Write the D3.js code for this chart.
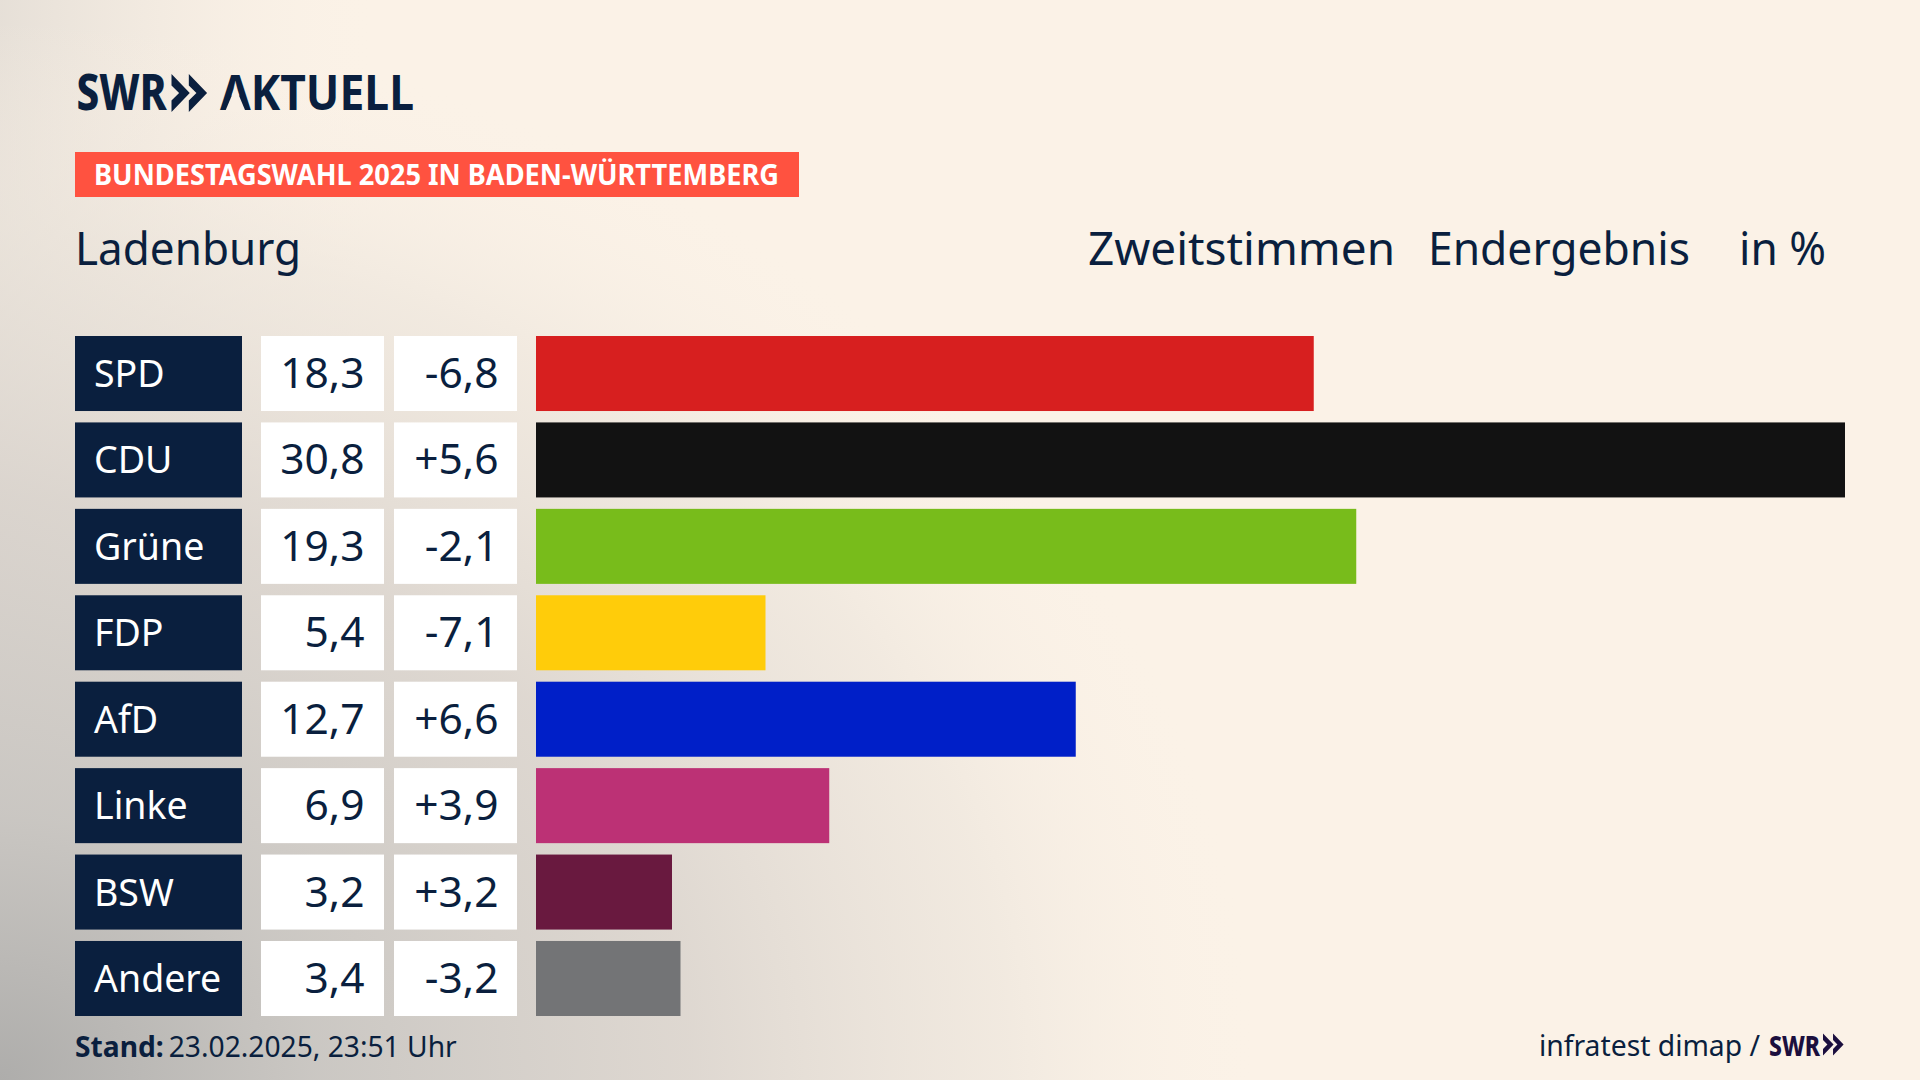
<!DOCTYPE html>
<html lang="de">
<head>
<meta charset="utf-8">
<script src="https://d3js.org/d3.v7.min.js"></script>
<style>
html,body{margin:0;padding:0;width:1920px;height:1080px;overflow:hidden;background:#fbf2e7}
svg{display:block}
text{font-family:"Noto Sans",sans-serif}
</style>
</head>
<body>
<script>
const parties = ["SPD","CDU","Grüne","FDP","AfD","Linke","BSW","Andere"];
const results = [18.3,30.8,19.3,5.4,12.7,6.9,3.2,3.4];
const changes = [-6.8,5.6,-2.1,-7.1,6.6,3.9,3.2,-3.2];
const colours = ["#d71f1f","#121212","#78bc1b","#ffcc0a","#001fc8","#bc3175","#69193f","#737476"];

const navy="#0a1f3e";
const svg=d3.select("body").append("svg").attr("width",1920).attr("height",1080);
const defs=svg.append("defs");

const g1=defs.append("radialGradient").attr("id","bgA").attr("gradientUnits","userSpaceOnUse")
  .attr("cx",0).attr("cy",0).attr("r",1)
  .attr("gradientTransform","translate(0 1080) scale(1260 1060)");
[[0,"#aeadab",1],[.25,"#c8c5c1",.95],[.55,"#d8d2cc",.82],[.8,"#ebe4db",.6],[1,"#fbf2e7",0]].forEach(s=>
  g1.append("stop").attr("offset",s[0]).attr("stop-color",s[1]).attr("stop-opacity",s[2]));
const g2=defs.append("linearGradient").attr("id","bgB").attr("gradientUnits","userSpaceOnUse")
  .attr("x1",0).attr("y1",0).attr("x2",380).attr("y2",0);
[[0,"#c9c6c2",.42],[.5,"#d5d0ca",.16],[1,"#fbf2e7",0]].forEach(s=>
  g2.append("stop").attr("offset",s[0]).attr("stop-color",s[1]).attr("stop-opacity",s[2]));
svg.append("rect").attr("width",1920).attr("height",1080).attr("fill","#fbf2e7");
svg.append("rect").attr("width",1920).attr("height",1080).attr("fill","url(#bgB)");
svg.append("rect").attr("width",1920).attr("height",1080).attr("fill","url(#bgA)");

const xScale=d3.scaleLinear().domain([0,30.8]).range([536,1845]);
const yScale=d3.scaleBand().domain(parties).range([336,1016]).paddingInner(0.132).paddingOuter(0);
const fmt=v=>d3.format(".1f")(Math.abs(v)).replace(".",",");
const fmtChange=v=>(v<0?"-":"+")+fmt(v);

const fit=(sel,len)=>sel.attr("textLength",len).attr("lengthAdjust","spacingAndGlyphs");

// header logo
fit(svg.append("text").attr("x",76.5).attr("y",110).attr("font-size",49).attr("font-weight",800).attr("fill",navy).text("SWR"),90);
const aktuell=fit(svg.append("text").attr("x",220).attr("y",110).attr("font-size",49).attr("font-weight",700).attr("fill",navy).text("AKTUELL"),194);
// the wordmark's A has no crossbar
const a=aktuell.node().getExtentOfChar(0);
svg.append("path").attr("fill","#f8efe5")
  .attr("d",`M${a.x+a.width*.5} ${110-23}L${a.x+a.width*.82} ${110.5}L${a.x+a.width*.18} ${110.5}Z`);
const chevrons=(x,y,h,fill)=>{
  const w=h*.48,e=h*.3,n=h*.2;
  for(const dx of [0,w*.95]){
    const l=x+dx;
    svg.append("path").attr("fill",fill)
      .attr("d",`M${l} ${y}L${l+w} ${y+h/2}L${l} ${y+h}L${l} ${y+h-e}L${l+n} ${y+h/2}L${l} ${y+e}Z`);
  }
};
chevrons(171.5,74,38,navy);

// banner
svg.append("rect").attr("x",75).attr("y",152).attr("width",724).attr("height",45).attr("fill","#ff5240");
fit(svg.append("text").attr("x",94).attr("y",185).attr("font-size",28).attr("font-weight",700).attr("fill","#fff").text("BUNDESTAGSWAHL 2025 IN BADEN-WÜRTTEMBERG"),685);

// headers
[["Ladenburg",75,226],["Zweitstimmen",1088,307],["Endergebnis",1428,262],["in %",1739,87]].forEach(d=>
  fit(svg.append("text").attr("x",d[1]).attr("y",264.5).attr("font-size",45).attr("fill",navy).text(d[0]),d[2]));

// rows
const rows=svg.selectAll("g.row").data(parties).join("g").attr("class","row");
const bh=yScale.bandwidth();
rows.append("rect").attr("x",75).attr("y",d=>yScale(d)).attr("width",167).attr("height",bh).attr("fill",navy);
rows.append("text").attr("x",94).attr("y",d=>yScale(d)+51).attr("font-size",37.5).attr("fill","#fff").text(d=>d);
rows.append("rect").attr("x",261).attr("y",d=>yScale(d)).attr("width",123).attr("height",bh).attr("fill","#fff");
rows.append("text").attr("x",364.5).attr("y",d=>yScale(d)+52).attr("font-size",42.5).attr("text-anchor","end").attr("fill",navy).text((d,i)=>fmt(results[i]));
rows.append("rect").attr("x",394).attr("y",d=>yScale(d)).attr("width",123).attr("height",bh).attr("fill","#fff");
rows.append("text").attr("x",498.5).attr("y",d=>yScale(d)+52).attr("font-size",42.5).attr("text-anchor","end").attr("fill",navy).text((d,i)=>fmtChange(changes[i]));
rows.append("rect").attr("x",xScale(0)).attr("y",d=>yScale(d)).attr("width",(d,i)=>xScale(results[i])-xScale(0)).attr("height",bh).attr("fill",(d,i)=>colours[i]);

// footer
const st=svg.append("text").attr("x",75).attr("y",1056.5).attr("font-size",28.2).attr("fill",navy);
st.append("tspan").attr("font-weight",700).text("Stand:");
st.append("tspan").attr("dx",5).text("23.02.2025, 23:51 Uhr");
fit(svg.append("text").attr("x",1539).attr("y",1055.5).attr("font-size",29).attr("fill",navy).text("infratest dimap /"),221);
fit(svg.append("text").attr("x",1769).attr("y",1055.5).attr("font-size",29).attr("font-weight",800).attr("fill","#1b0f3e").text("SWR"),51);
chevrons(1823,1033.5,22,"#1b0f3e");
</script>
</body>
</html>
